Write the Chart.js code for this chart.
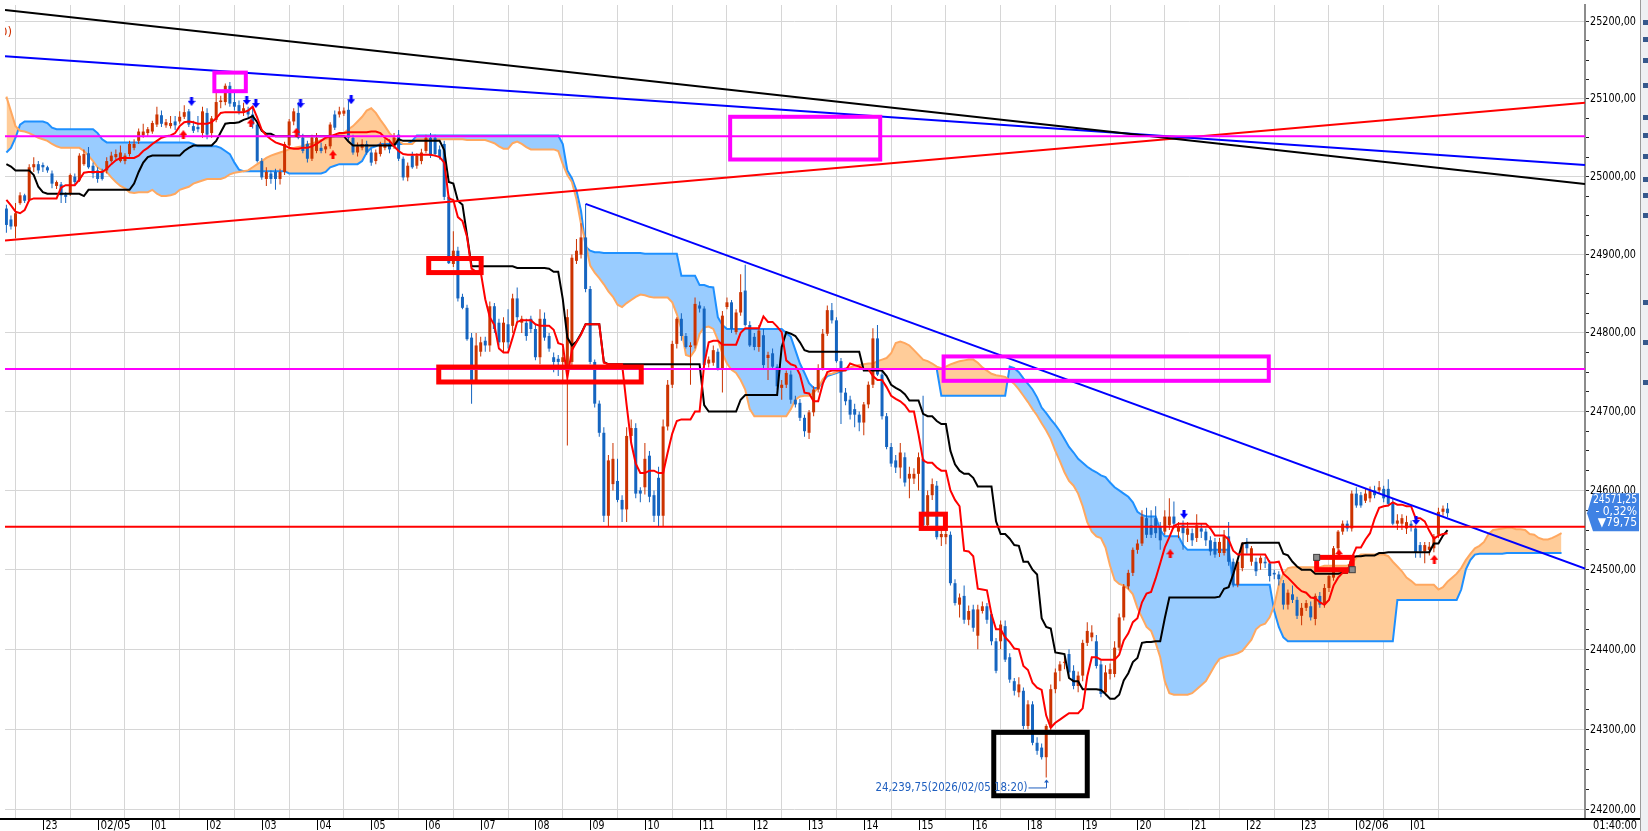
<!DOCTYPE html>
<html>
<head>
<meta charset="utf-8">
<script src="https://cdn.jsdelivr.net/npm/chart.js@4.4.1/dist/chart.umd.min.js"></script>
<style>
  html, body { margin: 0; padding: 0; background: #fff; overflow: hidden; }
  #wrap { position: relative; width: 1648px; height: 831px; }
</style>
</head>
<body>
<div id="wrap"><canvas id="chart" width="1648" height="831"></canvas></div>
<script>
// 5-minute candles, index 0 = 02/04 22:20 ... index 316 = 02/06 01:40
const opens = [
  24959,24945,24936,24966,24976,24970,25012,25016,25015,25012, // 0
  25004,24988,24990,24977,24978,25000,24995,25016,25030,25014,
  25008,25006,25008,25020,25025,25020,25020,25029,25037,25046, // 20
  25053,25056,25058,25067,25079,25066,25065,25071,25071,25077,
  25084,25065,25064,25056,25082,25056,25073,25096,25096,25117, // 40
  25096,25092,25084,25086,25080,25067,25020,24997,25004,25006,
  24997,25006,25040,25071,25082,25050,25042,25023,25033,25037, // 60
  25035,25039,25080,25080,25081,25086,25050,25031,25037,25042,
  25031,25020,25029,25037,25042,25039,25054,25023,24999,25027, // 80
  25014,25020,25033,25050,25050,25035,25042,24974,24888,24905,
  24846,24832,24794,24740,24776,24790,24784,24834,24813,24788, // 100
  24811,24809,24844,24813,24813,24818,24805,24769,24818,24796,
  24769,24767,24763,24755,24763,24892,24900,24922,24856,24763, // 120
  24710,24673,24568,24608,24612,24588,24576,24669,24679,24600,
  24604,24644,24594,24616,24568,24681,24734,24786,24818,24796, // 140
  24782,24784,24835,24831,24761,24762,24776,24755,24833,24839,
  24801,24826,24854,24810,24795,24782,24797,24768,24774,24757, // 160
  24730,24734,24747,24715,24711,24692,24673,24699,24728,24755,
  24799,24829,24816,24764,24724,24715,24703,24696,24686,24709, // 180
  24734,24793,24747,24694,24655,24638,24629,24642,24615,24615,
  24621,24640,24556,24594,24606,24541,24541,24544,24483,24456, // 200
  24467,24437,24450,24417,24448,24454,24444,24410,24410,24429,
  24390,24360,24346,24348,24304,24331,24283,24277,24265,24302, // 220
  24350,24373,24383,24394,24373,24354,24367,24408,24415,24410,
  24381,24346,24369,24369,24402,24440,24479,24496,24525,24533, // 240
  24565,24556,24565,24554,24548,24556,24567,24548,24556,24544,
  24546,24540,24552,24548,24537,24535,24521,24521,24542,24510, // 260
  24481,24502,24533,24510,24510,24508,24510,24508,24496,24494,
  24483,24456,24469,24462,24442,24452,24454,24438,24467,24458, // 280
  24477,24490,24527,24548,24558,24552,24596,24594,24587,24590,
  24600,24600,24602,24602,24585,24558,24558,24552,24558,24552, // 300
  24531,24523,24525,24527,24544,24573,24577
];
const highs = [
  24964,24950,24966,24980,24978,25016,25025,25020,25018,25014, // 0
  25008,24995,24993,24980,25004,25004,25030,25035,25038,25018,
  25012,25010,25025,25032,25035,25040,25030,25046,25048,25062, // 20
  25068,25064,25072,25090,25085,25074,25078,25078,25084,25092,
  25087,25072,25078,25090,25088,25078,25110,25104,25120,25122, // 40
  25108,25098,25095,25090,25090,25070,25024,25012,25008,25010,
  25010,25045,25074,25088,25096,25055,25046,25054,25056,25044, // 60
  25042,25070,25085,25090,25089,25098,25054,25044,25048,25046,
  25036,25035,25045,25048,25048,25056,25060,25026,25018,25032, // 80
  25030,25036,25054,25056,25054,25040,25046,24976,24930,24910,
  24850,24836,24800,24800,24795,24795,24840,24838,24818,24820, // 100
  24830,24850,24858,24822,24818,24822,24810,24830,24826,24800,
  24775,24772,24780,24830,24900,24920,24940,24965,24860,24766, // 120
  24714,24680,24645,24660,24640,24594,24680,24690,24685,24604,
  24660,24650,24600,24630,24690,24740,24790,24820,24825,24800, // 140
  24788,24845,24840,24834,24770,24784,24780,24828,24845,24842,
  24830,24875,24887,24815,24800,24810,24805,24776,24780,24760, // 160
  24740,24752,24752,24720,24716,24696,24702,24732,24760,24805,
  24835,24838,24820,24768,24730,24720,24710,24700,24712,24738, // 180
  24806,24810,24752,24698,24660,24645,24660,24648,24630,24628,
  24648,24720,24600,24615,24612,24552,24550,24548,24488,24470, // 200
  24480,24455,24456,24456,24460,24458,24448,24414,24436,24436,
  24395,24364,24365,24352,24336,24335,24290,24282,24306,24356, // 220
  24376,24385,24392,24400,24380,24372,24412,24434,24430,24418,
  24386,24380,24382,24410,24445,24482,24500,24528,24538,24575, // 240
  24578,24575,24580,24560,24575,24590,24586,24560,24562,24560,
  24552,24570,24558,24552,24542,24540,24540,24550,24560,24514, // 260
  24512,24535,24540,24530,24515,24518,24516,24512,24500,24498,
  24487,24475,24480,24466,24458,24462,24460,24470,24472,24482, // 280
  24494,24530,24550,24562,24562,24600,24604,24598,24602,24605,
  24606,24612,24606,24614,24590,24570,24570,24568,24562,24556, // 300
  24535,24535,24535,24545,24578,24581,24584
];
const lows = [
  24928,24932,24921,24964,24966,24968,25006,25004,25006,25005, // 0
  24985,24984,24966,24966,24975,24990,24993,25014,25010,24998,
  24992,24995,25004,25018,25022,25018,25016,25026,25034,25042, // 20
  25050,25052,25055,25064,25064,25063,25062,25060,25068,25074,
  25064,25056,25057,25050,25048,25050,25070,25088,25092,25090, // 40
  25085,25080,25078,25074,25062,25018,24996,24988,24991,24983,
  24990,25002,25036,25066,25048,25030,25018,25020,25030,25030, // 60
  25030,25036,25060,25076,25078,25046,25028,25026,25034,25028,
  25014,25016,25026,25034,25030,25036,25020,24995,24994,25010, // 80
  25010,25016,25030,25024,25026,25022,24970,24888,24884,24840,
  24830,24790,24710,24738,24770,24776,24776,24800,24784,24775, // 100
  24780,24800,24815,24800,24790,24800,24765,24760,24790,24776,
  24750,24745,24740,24657,24755,24888,24895,24852,24760,24705, // 120
  24668,24560,24555,24600,24585,24560,24560,24660,24590,24585,
  24595,24585,24560,24555,24555,24676,24730,24780,24790,24780, // 140
  24734,24780,24826,24757,24756,24758,24752,24724,24830,24800,
  24798,24822,24808,24782,24778,24776,24755,24740,24754,24728, // 160
  24715,24730,24710,24705,24688,24668,24665,24694,24724,24752,
  24796,24812,24762,24684,24708,24690,24680,24675,24670,24704, // 180
  24730,24745,24690,24652,24630,24622,24615,24605,24590,24608,
  24600,24555,24550,24588,24538,24530,24532,24480,24455,24440, // 200
  24432,24430,24422,24400,24445,24432,24405,24370,24400,24384,
  24358,24342,24340,24300,24300,24280,24268,24262,24239.75,24298, // 220
  24345,24360,24375,24366,24350,24346,24360,24404,24410,24376,
  24340,24342,24362,24365,24398,24436,24475,24492,24520,24530, // 240
  24540,24540,24540,24525,24544,24550,24552,24540,24525,24535,
  24530,24535,24540,24530,24518,24515,24516,24518,24505,24478, // 260
  24478,24498,24520,24505,24492,24500,24502,24485,24488,24480,
  24450,24450,24458,24438,24430,24448,24436,24430,24452,24452, // 280
  24472,24486,24522,24544,24548,24548,24578,24578,24584,24585,
  24590,24596,24585,24580,24556,24550,24550,24545,24548,24515, // 300
  24515,24508,24518,24522,24540,24568,24566
];
const closes = [
  24938,24936,24953,24976,24969,25012,25016,25008,25012,25008, // 0
  24991,24993,24976,24974,25002,24993,25027,25029,25012,25004,
  24997,24997,25020,25027,25029,25031,25027,25042,25042,25058, // 20
  25058,25061,25069,25080,25068,25070,25069,25066,25077,25083,
  25067,25059,25061,25084,25054,25075,25096,25098,25117,25094, // 40
  25090,25084,25088,25080,25067,25020,24999,25006,24997,24997,
  25006,25042,25071,25084,25050,25033,25023,25050,25050,25033, // 60
  25039,25067,25063,25084,25085,25050,25031,25039,25042,25031,
  25018,25031,25042,25042,25035,25050,25023,24999,25014,25012, // 80
  25027,25031,25050,25027,25029,25025,24974,24889,24905,24844,
  24832,24792,24740,24784,24788,24784,24834,24805,24788,24813, // 100
  24788,24844,24820,24818,24796,24805,24769,24818,24794,24780,
  24763,24763,24769,24820,24896,24905,24922,24856,24763,24710, // 120
  24673,24568,24638,24640,24588,24576,24669,24679,24596,24596,
  24640,24592,24568,24568,24681,24734,24786,24818,24796,24782, // 140
  24784,24837,24831,24759,24766,24778,24755,24822,24839,24805,
  24826,24852,24810,24784,24782,24803,24759,24772,24757,24732, // 160
  24734,24749,24715,24709,24692,24675,24699,24728,24755,24799,
  24829,24816,24764,24724,24713,24696,24696,24686,24709,24734, // 180
  24793,24747,24694,24655,24634,24629,24648,24610,24621,24621,
  24642,24556,24594,24608,24541,24545,24545,24483,24458,24465, // 200
  24437,24448,24427,24450,24454,24437,24410,24373,24431,24387,
  24362,24348,24356,24304,24331,24283,24273,24265,24304,24350, // 220
  24371,24381,24384,24371,24354,24367,24408,24423,24421,24379,
  24344,24371,24375,24402,24440,24479,24496,24525,24533,24567, // 240
  24544,24544,24546,24537,24567,24567,24558,24554,24546,24552,
  24537,24556,24548,24537,24523,24519,24535,24542,24510,24481, // 260
  24510,24533,24527,24527,24498,24515,24508,24492,24494,24488,
  24456,24471,24462,24442,24452,24458,24440,24467,24456,24477, // 280
  24492,24527,24548,24558,24552,24596,24581,24581,24596,24600,
  24594,24604,24590,24583,24558,24562,24565,24560,24554,24521, // 300
  24523,24531,24529,24542,24573,24577,24571.25
];

// Ichimoku: conversion line (red) and base line (black), one value per candle
const tenkan = [
  24970,24963,24955,24953,24957,24970,24972,24972,24972,24972,
  24972,24972,24986,24989,24989,24989,24996,25005,25006,25006,
  25006,25006,25010,25016,25021,25024,25024,25024,25024,25027,
  25033,25037,25042,25046,25050,25052,25053,25056,25065,25070,
  25071,25070,25068,25068,25068,25070,25075,25082,25083,25083,
  25083,25083,25083,25085,25090,25076,25060,25053,25048,25044,
  25042,25040,25037,25036,25036,25037,25037,25039,25042,25046,
  25050,25052,25054,25056,25056,25057,25057,25057,25057,25057,
  25058,25058,25056,25050,25046,25039,25033,25029,25028,25028,
  25028,25028,25028,25028,25027,25025,25018,24972,24970,24948,
  24943,24923,24882,24878,24878,24843,24820,24810,24780,24775,
  24775,24794,24814,24816,24816,24816,24811,24809,24809,24809,
  24804,24787,24785,24743,24778,24788,24798,24811,24811,24811,
  24811,24762,24760,24760,24760,24760,24708,24660,24634,24622,
  24622,24625,24625,24622,24622,24648,24672,24688,24690,24690,
  24690,24700,24700,24760,24788,24790,24790,24785,24785,24785,
  24785,24800,24806,24806,24806,24806,24821,24814,24814,24808,
  24801,24765,24760,24758,24747,24724,24723,24713,24713,24735,
  24750,24752,24752,24752,24752,24761,24759,24757,24754,24754,
  24745,24740,24740,24731,24720,24716,24713,24708,24700,24700,
  24671,24638,24635,24635,24629,24625,24625,24600,24588,24580,
  24524,24523,24517,24476,24475,24474,24444,24425,24425,24415,
  24409,24401,24400,24379,24374,24358,24352,24349,24317,24302,
  24308,24312,24316,24320,24320,24320,24326,24366,24390,24390,
  24387,24387,24387,24387,24393,24411,24420,24434,24439,24459,
  24470,24472,24489,24508,24528,24541,24555,24558,24558,24558,
  24558,24558,24558,24558,24552,24543,24543,24543,24538,24524,
  24519,24519,24519,24519,24519,24519,24519,24509,24509,24510,
  24495,24490,24484,24478,24473,24471,24465,24464,24459,24456,
  24462,24480,24490,24496,24496,24515,24528,24528,24538,24546,
  24564,24578,24580,24581,24585,24582,24582,24580,24580,24565,
  24565,24561,24549,24539,24543,24545,24546
];
const kijun = [
  25016,25013,25008,25008,25008,25008,25002,24987,24980,24978,
  24978,24978,24978,24978,24978,24978,24978,24975,24983,24983,
  24983,24983,24983,24983,24983,24983,24983,24983,24991,25006,
  25018,25025,25027,25027,25027,25027,25027,25027,25027,25033,
  25037,25040,25040,25040,25040,25040,25046,25057,25068,25069,
  25069,25070,25073,25075,25078,25070,25059,25055,25055,25052,
  25052,25052,25052,25052,25052,25052,25052,25052,25052,25052,
  25052,25052,25052,25052,25052,25045,25040,25040,25040,25040,
  25040,25040,25040,25040,25040,25040,25048,25046,25046,25046,
  25046,25046,25046,25046,25046,25046,25034,24993,24991,24969,
  24964,24925,24885,24885,24885,24885,24885,24885,24885,24885,
  24885,24885,24883,24883,24883,24883,24883,24883,24883,24882,
  24878,24878,24843,24794,24784,24789,24799,24811,24811,24811,
  24811,24763,24760,24760,24760,24760,24760,24760,24760,24760,
  24760,24760,24760,24760,24760,24760,24760,24760,24760,24760,
  24760,24760,24760,24708,24700,24700,24700,24700,24700,24700,
  24700,24715,24721,24721,24721,24721,24721,24721,24721,24721,
  24782,24801,24799,24796,24788,24778,24776,24776,24776,24776,
  24776,24776,24776,24776,24776,24776,24776,24776,24752,24752,
  24752,24752,24752,24745,24734,24730,24727,24722,24714,24714,
  24714,24697,24694,24694,24688,24684,24684,24650,24633,24625,
  24621,24621,24616,24605,24605,24605,24605,24561,24545,24545,
  24539,24531,24530,24510,24510,24500,24494,24439,24428,24426,
  24396,24395,24394,24364,24360,24360,24350,24350,24350,24350,
  24349,24344,24338,24338,24343,24361,24370,24384,24389,24408,
  24409,24409,24410,24410,24439,24465,24465,24465,24465,24465,
  24465,24465,24465,24465,24465,24465,24466,24476,24478,24494,
  24513,24533,24534,24534,24534,24534,24534,24534,24534,24534,
  24520,24518,24510,24504,24500,24500,24500,24495,24495,24495,
  24495,24495,24495,24496,24496,24515,24517,24517,24518,24518,
  24518,24521,24521,24522,24522,24522,24522,24522,24522,24522,
  24522,24522,24522,24533,24533,24543,24550
];
// leading spans, already shifted forward (index 0 .. 341)
const spanA = [
  25103,25084,25065,25059,25058,25056,25053,25050,25048,25046,
  25042,25039,25037,25037,25037,25037,25037,25033,25027,25020,
  25012,25008,25006,24999,24993,24988,24985,24980,24979,24980,
  24980,24980,24983,24978,24975,24975,24976,24978,24983,24985,
  24987,24991,24993,24995,24997,24997,24997,24997,24999,25003,
  25005,25006,25007,25008,25012,25016,25020,25024,25027,25029,
  25031,25033,25035,25037,25038,25039,25042,25042,25045,25047,
  25048,25050,25052,25054,25056,25061,25065,25071,25077,25085,
  25088,25082,25073,25065,25056,25050,25046,25042,25042,25042,
  25048,25048,25048,25048,25048,25048,25048,25048,25048,25048,
  25048,25047,25047,25047,25047,25047,25045,25043,25039,25036,
  25036,25043,25045,25042,25038,25035,25035,25035,25035,25035,
  25035,25033,25016,25002,24993,24971,24939,24915,24886,24877,
  24870,24862,24853,24846,24836,24833,24838,24842,24846,24849,
  24848,24846,24845,24845,24845,24845,24839,24824,24805,24772,
  24770,24778,24799,24807,24808,24805,24791,24774,24761,24753,
  24749,24740,24728,24703,24694,24694,24694,24694,24694,24694,
  24694,24694,24703,24715,24719,24720,24720,24724,24730,24741,
  24747,24748,24750,24753,24755,24756,24758,24759,24760,24761,
  24761,24764,24766,24768,24774,24787,24789,24787,24784,24778,
  24772,24766,24764,24761,24757,24755,24757,24760,24762,24764,
  24765,24766,24766,24762,24756,24752,24748,24746,24745,24744,
  24740,24735,24728,24720,24712,24703,24695,24685,24676,24665,
  24650,24637,24623,24612,24606,24596,24580,24560,24548,24542,
  24540,24528,24505,24487,24482,24480,24476,24469,24452,24440,
  24428,24423,24408,24390,24360,24345,24343,24343,24343,24343,
  24345,24350,24355,24360,24370,24380,24388,24390,24392,24393,
  24395,24398,24405,24412,24425,24430,24432,24440,24455,24481,
  24495,24502,24503,24503,24503,24503,24503,24503,24503,24505,
  24505,24505,24505,24505,24505,24508,24515,24519,24519,24519,
  24519,24519,24519,24517,24510,24504,24498,24490,24486,24481,
  24481,24481,24481,24481,24475,24478,24485,24490,24495,24502,
  24512,24520,24527,24530,24535,24545,24550,24551,24552,24553,
  24553,24551,24551,24550,24545,24544,24540,24538,24538,24540,
  24543,24546
];
const spanB = [
  25031,25037,25050,25067,25071,25071,25071,25071,25071,25069,
  25063,25061,25061,25061,25061,25061,25061,25061,25061,25061,
  25056,25048,25044,25044,25044,25044,25044,25044,25044,25044,
  25044,25044,25044,25044,25044,25044,25044,25044,25044,25044,
  25044,25042,25039,25039,25039,25039,25039,25037,25033,25029,
  25018,25009,25007,25007,25007,25007,25007,25007,25007,25007,
  25007,25007,25004,25004,25004,25004,25004,25004,25004,25004,
  25006,25012,25014,25016,25016,25016,25016,25016,25020,25031,
  25037,25039,25042,25042,25042,25042,25042,25042,25042,25046,
  25053,25053,25053,25053,25053,25053,25053,25053,25053,25053,
  25053,25053,25053,25053,25053,25053,25053,25053,25053,25053,
  25053,25053,25053,25053,25053,25053,25053,25053,25053,25053,
  25053,25053,25042,25008,24998,24982,24956,24910,24905,24903,
  24903,24902,24902,24902,24902,24902,24902,24902,24902,24902,
  24901,24901,24901,24901,24901,24901,24901,24901,24873,24873,
  24873,24873,24861,24861,24859,24858,24820,24810,24805,24805,
  24805,24805,24805,24805,24805,24805,24805,24805,24805,24805,
  24805,24800,24795,24778,24761,24749,24736,24730,24730,24738,
  24745,24747,24749,24751,24753,24754,24754,24754,24754,24754,
  24754,24754,24754,24754,24754,24754,24754,24754,24754,24754,
  24754,24754,24754,24754,24754,24720,24720,24720,24720,24720,
  24720,24720,24720,24720,24720,24720,24720,24720,24720,24720,
  24757,24755,24750,24742,24735,24728,24718,24705,24698,24690,
  24683,24675,24665,24655,24648,24640,24635,24630,24626,24623,
  24619,24617,24610,24604,24600,24596,24592,24585,24573,24569,
  24567,24567,24567,24550,24542,24542,24542,24542,24531,24525,
  24525,24525,24525,24525,24525,24525,24525,24525,24525,24481,
  24481,24481,24481,24481,24481,24481,24481,24481,24448,24428,
  24415,24410,24410,24410,24410,24410,24410,24410,24410,24410,
  24410,24410,24410,24410,24410,24410,24410,24410,24410,24410,
  24410,24410,24410,24410,24410,24462,24462,24462,24462,24462,
  24462,24462,24462,24462,24462,24462,24462,24462,24462,24475,
  24500,24512,24519,24520,24520,24520,24520,24520,24520,24521,
  24521,24521,24521,24521,24521,24521,24521,24521,24521,24521,
  24521,24521
];

// hour ticks on the time axis (candle index) and their labels
const hourTicks  = [8, 20, 32, 44, 56, 68, 80, 92, 104, 116, 128, 140, 152, 164, 176, 188, 200, 212, 224, 236, 248, 260, 272, 284, 296, 308];
const hourLabels = ['23', '02/05', '01', '02', '03', '04', '05', '06', '07', '08', '09', '10', '11', '12', '13', '14', '15', '16', '18', '19', '20', '21', '22', '23', '02/06', '01'];
const priceTicks = [24200, 24300, 24400, 24500, 24600, 24700, 24800, 24900, 25000, 25100, 25200];

// drawn objects: trend lines [x1, price1, x2, price2], levels, boxes [x1, x2, priceTop, priceBottom]
const trendLines = [
  [-0.306, 25215, 346.14, 24990.5],
  [-0.306, 25155, 346.14, 25015],
  [-0.306, 24918, 346.14, 25095],
  [127, 24965, 346.14, 24501.5]
];
const levels = [25052, 24754, 24554];
const boxes = [
  [45.6, 52.5, 25134, 25110],
  [158.7, 191.6, 25077, 25022],
  [205.5, 276.8, 24770, 24739],
  [92.6, 104.1, 24895, 24877],
  [94.8, 139.2, 24756.5, 24737.5],
  [200.6, 205.9, 24570, 24552],
  [287.3, 295.1, 24515.5, 24500],
  [216.5, 237.0, 24296, 24217]
];
const sellMarks = [[40.6, 25097], [52.7, 25098], [54.7, 25094], [64.5, 25094], [75.6, 25099], [258.2, 24570], [309.1, 24562]];
const buyMarks  = [[38.8, 25054], [53.6, 25069], [63.6, 25057], [71.6, 25028], [255.2, 24520], [292.2, 24520], [313.1, 24513]];
const prevSettle = 24651.00;
const lowTimeText = '2026/02/05 18:20';

// ---- styles ----
const FONT = '"Liberation Sans Narrow","DejaVu Sans Condensed","Arial Narrow","Liberation Sans",sans-serif';
const UP = '#cc3300', DOWN = '#1565c0';
const trendColors = ['#000000', '#0000ff', '#ff0000', '#0000ff'];
const levelColors = ['#ff00ff', '#ff00ff', '#ff0000'];
const boxColors = ['#ff00ff', '#ff00ff', '#ff00ff', '#ff0000', '#ff0000', '#ff0000', '#ff0000', '#000000'];
const boxWidths = [4, 4, 4, 5, 5, 5, 5, 5];
const X_MIN = -0.306, X_MAX = 346.14;
const Y_MIN = 24189.3, Y_MAX = 25221.5;

Chart.defaults.font.family = FONT;
Chart.defaults.animation = false;

function arrowImage(color, down) {
  const c = document.createElement('canvas');
  c.width = 8; c.height = 9;
  const g = c.getContext('2d');
  g.fillStyle = color;
  g.beginPath();
  if (down) {
    g.rect(2.5, 0, 3, 4);
    g.moveTo(0, 4); g.lineTo(8, 4); g.lineTo(4, 9);
  } else {
    g.rect(2.5, 5, 3, 4);
    g.moveTo(0, 5); g.lineTo(8, 5); g.lineTo(4, 0);
  }
  g.fill();
  return c;
}

function fitText(ctx, text, x, y, maxW) {
  const w = ctx.measureText(text).width;
  const k = w > maxW ? maxW / w : 1;
  ctx.save();
  ctx.translate(x, y);
  ctx.scale(k, 1);
  ctx.fillText(text, 0, 0);
  ctx.restore();
}

function fmtComma(v) {
  const parts = v.toFixed(2).split('.');
  return parts[0].replace(/\B(?=(\d{3})+(?!\d))/g, ',') + ',' + parts[1];
}

const idx = opens.map((_, i) => i);
const candleColors = idx.map(i => closes[i] >= opens[i] ? UP : DOWN);
const line = (arr) => arr.map((v, i) => ({ x: i, y: v }));

const datasets = [
  { type: 'line', label: 'spanA', data: line(spanA), borderColor: '#ffa860', borderWidth: 2,
    pointRadius: 0, tension: 0, fill: { target: 1, above: '#ffcc99', below: '#99ccff' }, order: 90 },
  { type: 'line', label: 'spanB', data: line(spanB), borderColor: '#1e90ff', borderWidth: 2,
    pointRadius: 0, tension: 0, fill: false, order: 91 },
  { type: 'bar', label: 'wick', data: idx.map(i => ({ x: i, y: [lows[i], highs[i]] })),
    backgroundColor: candleColors, barThickness: 1, grouped: false, inflateAmount: 0, borderWidth: 0, order: 60 },
  { type: 'bar', label: 'body', data: idx.map(i => ({ x: i, y: [opens[i], closes[i]] })),
    backgroundColor: candleColors, barThickness: 3, minBarLength: 1, grouped: false, inflateAmount: 0, borderWidth: 0, order: 59 },
  { type: 'line', label: 'kijun', data: line(kijun), borderColor: '#000000', borderWidth: 2,
    pointRadius: 0, tension: 0, fill: false, order: 50 },
  { type: 'line', label: 'tenkan', data: line(tenkan), borderColor: '#ff0000', borderWidth: 2,
    pointRadius: 0, tension: 0, fill: false, order: 49 }
];
trendLines.forEach((t, k) => datasets.push({
  type: 'line', data: [{ x: t[0], y: t[1] }, { x: t[2], y: t[3] }], borderColor: trendColors[k],
  borderWidth: 2, pointRadius: 0, fill: false, order: 20
}));
levels.forEach((p, k) => datasets.push({
  type: 'line', data: [{ x: X_MIN, y: p }, { x: X_MAX, y: p }], borderColor: levelColors[k],
  borderWidth: 2, pointRadius: 0, fill: false, order: 19
}));
datasets.push({
  type: 'line', data: sellMarks.map(m => ({ x: m[0], y: m[1] })), showLine: false,
  pointStyle: arrowImage('#0000ff', true), pointRadius: 4, order: 5
});
datasets.push({
  type: 'line', data: buyMarks.map(m => ({ x: m[0], y: m[1] })), showLine: false,
  pointStyle: arrowImage('#ff0000', false), pointRadius: 4, order: 5
});

const overlay = {
  id: 'overlay',
  afterDatasetsDraw(chart) {
    const { ctx, scales: { x, y } } = chart;
    ctx.save();
    const a = chart.chartArea;
    ctx.beginPath(); ctx.rect(a.left, a.top, a.right - a.left, a.bottom - a.top); ctx.clip();
    boxes.forEach((b, k) => {
      const x1 = x.getPixelForValue(b[0]), x2 = x.getPixelForValue(b[1]);
      const y1 = y.getPixelForValue(b[2]), y2 = y.getPixelForValue(b[3]);
      ctx.strokeStyle = boxColors[k];
      ctx.lineWidth = boxWidths[k];
      ctx.strokeRect(x1, y1, x2 - x1, y2 - y1);
    });
    // selection handles on the last red box
    const sb = boxes[6];
    [[sb[0], sb[2]], [sb[1], sb[3]]].forEach(h => {
      const hx = x.getPixelForValue(h[0]), hy = y.getPixelForValue(h[1]);
      ctx.fillStyle = '#8c8c8c'; ctx.fillRect(hx - 3, hy - 3, 6, 6);
      ctx.strokeStyle = '#404040'; ctx.lineWidth = 1; ctx.strokeRect(hx - 3, hy - 3, 6, 6);
    });
    // lowest price marker
    const lowVal = Math.min(...lows);
    const li = lows.indexOf(lowVal);
    const px = Math.round(x.getPixelForValue(li)) + 0.5, py = y.getPixelForValue(lowVal);
    ctx.strokeStyle = '#1f5fbf'; ctx.fillStyle = '#1f5fbf'; ctx.lineWidth = 1;
    ctx.beginPath(); ctx.moveTo(px, py + 3); ctx.lineTo(px, py + 10.5); ctx.lineTo(px - 18, py + 10.5); ctx.stroke();
    ctx.beginPath(); ctx.moveTo(px - 2.5, py + 5); ctx.lineTo(px + 2.5, py + 5); ctx.lineTo(px, py + 2); ctx.fill();
    ctx.font = '12px ' + FONT; ctx.textAlign = 'right'; ctx.textBaseline = 'middle';
    fitText(ctx, fmtComma(lowVal) + '(' + lowTimeText + ')', px - 19, py + 10, 152);
    // indicator caption, cut at the left edge
    ctx.fillStyle = '#d03000'; ctx.textAlign = 'left'; ctx.textBaseline = 'middle';
    ctx.font = '13px ' + FONT;
    ctx.fillText('0)', 0, 33);
    ctx.restore();
  },
  afterDraw(chart) {
    const { ctx, scales: { x, y } } = chart;
    const a = chart.chartArea;
    ctx.save();
    // axis line
    ctx.fillStyle = '#000'; ctx.fillRect(0, a.bottom, 1640, 2);
    // time labels
    ctx.font = '12px ' + FONT; ctx.textBaseline = 'middle'; ctx.textAlign = 'left';
    hourTicks.forEach((t, k) => {
      const px = Math.round(x.getPixelForValue(t)) + 0.5;
      ctx.strokeStyle = '#000'; ctx.lineWidth = 1;
      ctx.beginPath(); ctx.moveTo(px, a.bottom + 2); ctx.lineTo(px, a.bottom + 12); ctx.stroke();
      fitText(ctx, hourLabels[k], px + 2, a.bottom + 7.5, hourLabels[k].length * 6);
    });
    ctx.textAlign = 'right';
    fitText(ctx, '01:40:00', 1637, a.bottom + 7.5, 44);
    // price labels
    ctx.textAlign = 'left'; ctx.font = '13px ' + FONT;
    priceTicks.forEach(v => {
      const py = y.getPixelForValue(v);
      fitText(ctx, v + ',00', a.right + 5, py, 46);
    });
    // last price box
    const last = closes[closes.length - 1];
    const chg = last - prevSettle;
    const pct = chg / prevSettle * 100;
    const py = y.getPixelForValue(last);
    const bx = a.right + 2, top = py - 20, bot = py + 18;
    ctx.fillStyle = '#3f82e4';
    ctx.beginPath();
    ctx.moveTo(bx, py); ctx.lineTo(bx + 6, top); ctx.lineTo(1639, top);
    ctx.lineTo(1639, bot); ctx.lineTo(bx + 6, bot); ctx.closePath(); ctx.fill();
    ctx.fillStyle = '#ffffff'; ctx.font = '12px ' + FONT; ctx.textAlign = 'right';
    fitText(ctx, last.toFixed(2).replace('.', ','), 1637, py - 13, 44);
    fitText(ctx, (chg < 0 ? '- ' : '+ ') + Math.abs(pct).toFixed(2).replace('.', ',') + '%', 1637, py - 1.5, 44);
    fitText(ctx, (chg < 0 ? '\u25BC' : '\u25B2') + Math.abs(chg).toFixed(2).replace('.', ','), 1637, py + 10, 44);
    // toolbar strip
    ctx.fillStyle = '#eef0f3'; ctx.fillRect(1640, 0, 8, 831);
    ctx.fillStyle = '#9a9a9a'; ctx.fillRect(1640, 0, 1, 831);
    ctx.fillStyle = '#35588c';
    [20, 37, 58, 83, 115, 133, 154, 177, 193, 213, 300, 340, 380].forEach(t => ctx.fillRect(1643, t, 5, 5));
    ctx.restore();
  }
};

new Chart(document.getElementById('chart'), {
  type: 'bar',
  data: { datasets },
  plugins: [overlay],
  options: {
    responsive: false,
    devicePixelRatio: 1,
    animation: false,
    layout: { padding: { left: 0, top: 0, right: 8, bottom: 0 } },
    plugins: {
      legend: { display: false },
      tooltip: { enabled: false },
      filler: { drawTime: 'beforeDatasetsDraw', propagate: false }
    },
    scales: {
      x: {
        type: 'linear', min: X_MIN, max: X_MAX, offset: false, bounds: 'data',
        afterBuildTicks: s => { s.ticks = hourTicks.map(v => ({ value: v })); },
        ticks: { display: false },
        grid: { color: '#d6d6d6', lineWidth: 1, drawTicks: false },
        border: { display: false },
        afterFit: s => { s.height = 13; s.paddingLeft = 0; s.paddingRight = 0; }
      },
      y: {
        type: 'logarithmic', position: 'right', min: Y_MIN, max: Y_MAX, bounds: 'data',
        afterBuildTicks: s => {
          const t = [];
          for (let v = 24200; v <= 25200; v += 25) t.push({ value: v });
          s.ticks = t;
        },
        ticks: { display: false },
        grid: {
          color: c => (c.tick && c.tick.value % 100 === 0) ? '#d6d6d6' : 'rgba(0,0,0,0)',
          tickColor: '#222', tickLength: 4, lineWidth: 1
        },
        border: { color: '#8c8c8c', width: 2 },
        afterFit: s => { s.width = 55; s.paddingTop = 0; s.paddingBottom = 0; }
      }
    }
  }
});
</script>
</body>
</html>
